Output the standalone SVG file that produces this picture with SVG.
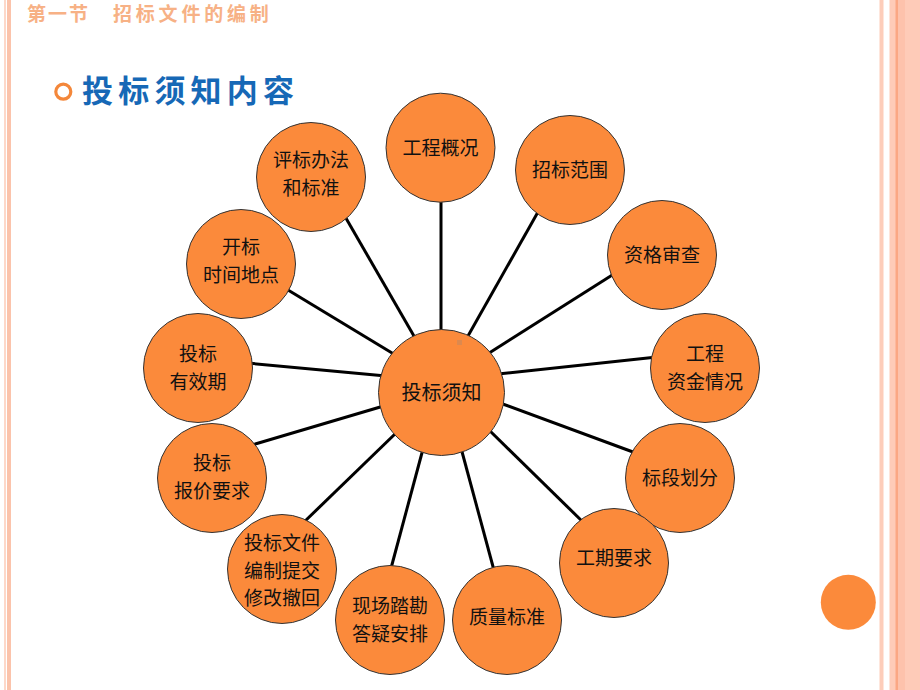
<svg xmlns="http://www.w3.org/2000/svg" width="920" height="690" viewBox="0 0 920 690">
<style>
.node circle{fill:#FB8A3B;stroke:#333;stroke-width:1}
.node text{font-family:"Noto Sans CJK SC","Noto Sans",sans-serif;font-size:19px;fill:#111;text-anchor:middle}
.conn line{stroke:#000;stroke-width:3}
</style>
<rect width="920" height="690" fill="#fff"/>
<rect x="4" y="0" width="2" height="690" fill="#FDD8C9"/>
<rect x="7" y="0" width="4" height="690" fill="#FBC3AB"/>
<rect x="879.5" y="0" width="4" height="690" fill="#FDCDBA"/>
<rect x="889.5" y="0" width="30.5" height="690" fill="#FECBB8"/>
<rect x="898" y="0" width="7" height="690" fill="#FDC2AC"/>
<rect x="895.5" y="0" width="2.5" height="690" fill="#FBA784"/>
<text x="27" y="21" font-family="Noto Sans CJK SC,sans-serif" font-weight="bold" font-size="19" letter-spacing="2" fill="#F7B185">第一节</text>
<text x="113" y="21" font-family="Noto Sans CJK SC,sans-serif" font-weight="bold" font-size="19" letter-spacing="3.8" fill="#F7B185">招标文件的编制</text>
<circle cx="63.3" cy="91.7" r="7.5" fill="none" stroke="#F4873A" stroke-width="3.2"/>
<text x="82" y="102" font-family="Noto Sans CJK SC,sans-serif" font-weight="bold" font-size="31" letter-spacing="5.2" fill="#1668B6">投标须知内容</text>
<g class="conn">
<line x1="441" y1="195" x2="441" y2="340"/>
<line x1="538" y1="212" x2="464" y2="343"/>
<line x1="617" y1="272" x2="486" y2="355"/>
<line x1="657" y1="357" x2="498" y2="374"/>
<line x1="633" y1="452" x2="500" y2="403"/>
<line x1="586" y1="525" x2="488" y2="429"/>
<line x1="495" y1="574" x2="461" y2="448"/>
<line x1="390" y1="572" x2="423" y2="449"/>
<line x1="302" y1="524" x2="396" y2="433"/>
<line x1="252" y1="445" x2="387" y2="405"/>
<line x1="247" y1="363" x2="386" y2="376"/>
<line x1="288" y1="290" x2="397" y2="356"/>
<line x1="343" y1="213" x2="418" y2="343"/>
</g>
<g id="center" class="node"><circle cx="441.5" cy="392.5" r="63"/><text x="441.5" y="400" style="font-size:20px">投标须知</text></g>
<rect x="457" y="340" width="5" height="5" fill="#C8885E" opacity="0.6"/>
<g id="n1" class="node"><circle cx="440.5" cy="147.7" r="54.5"/><text x="440.5" y="155">工程概况</text></g>
<g id="n2" class="node"><circle cx="570" cy="170" r="54.5"/><text x="570" y="177">招标范围</text></g>
<g id="n3" class="node"><circle cx="662" cy="255" r="54.5"/><text x="662" y="262">资格审查</text></g>
<g id="n4" class="node"><circle cx="705" cy="368" r="54.5"/><text x="705" y="361">工程</text><text x="705" y="388.5">资金情况</text></g>
<g id="n5" class="node"><circle cx="680" cy="478" r="54.5"/><text x="680" y="485">标段划分</text></g>
<g id="n6" class="node"><circle cx="614" cy="563" r="54.5"/><text x="614" y="565">工期要求</text></g>
<g id="n7" class="node"><circle cx="507" cy="620" r="54.5"/><text x="507" y="624">质量标准</text></g>
<g id="n8" class="node"><circle cx="390" cy="620" r="54.5"/><text x="390" y="613">现场踏勘</text><text x="390" y="640.5">答疑安排</text></g>
<g id="n9" class="node"><circle cx="282" cy="569" r="54.5"/><text x="282" y="550">投标文件</text><text x="282" y="577.5">编制提交</text><text x="282" y="605">修改撤回</text></g>
<g id="n10" class="node"><circle cx="212" cy="478" r="54.5"/><text x="212" y="470">投标</text><text x="212" y="497.5">报价要求</text></g>
<g id="n11" class="node"><circle cx="198" cy="368" r="54.5"/><text x="198" y="361">投标</text><text x="198" y="388.5">有效期</text></g>
<g id="n12" class="node"><circle cx="241" cy="264" r="54.5"/><text x="241" y="254">开标</text><text x="241" y="281.5">时间地点</text></g>
<g id="n13" class="node"><circle cx="311" cy="177" r="54.5"/><text x="311" y="167">评标办法</text><text x="311" y="194.5">和标准</text></g>
<circle cx="848.3" cy="602.3" r="27.5" fill="#FB8A3B"/>
</svg>
